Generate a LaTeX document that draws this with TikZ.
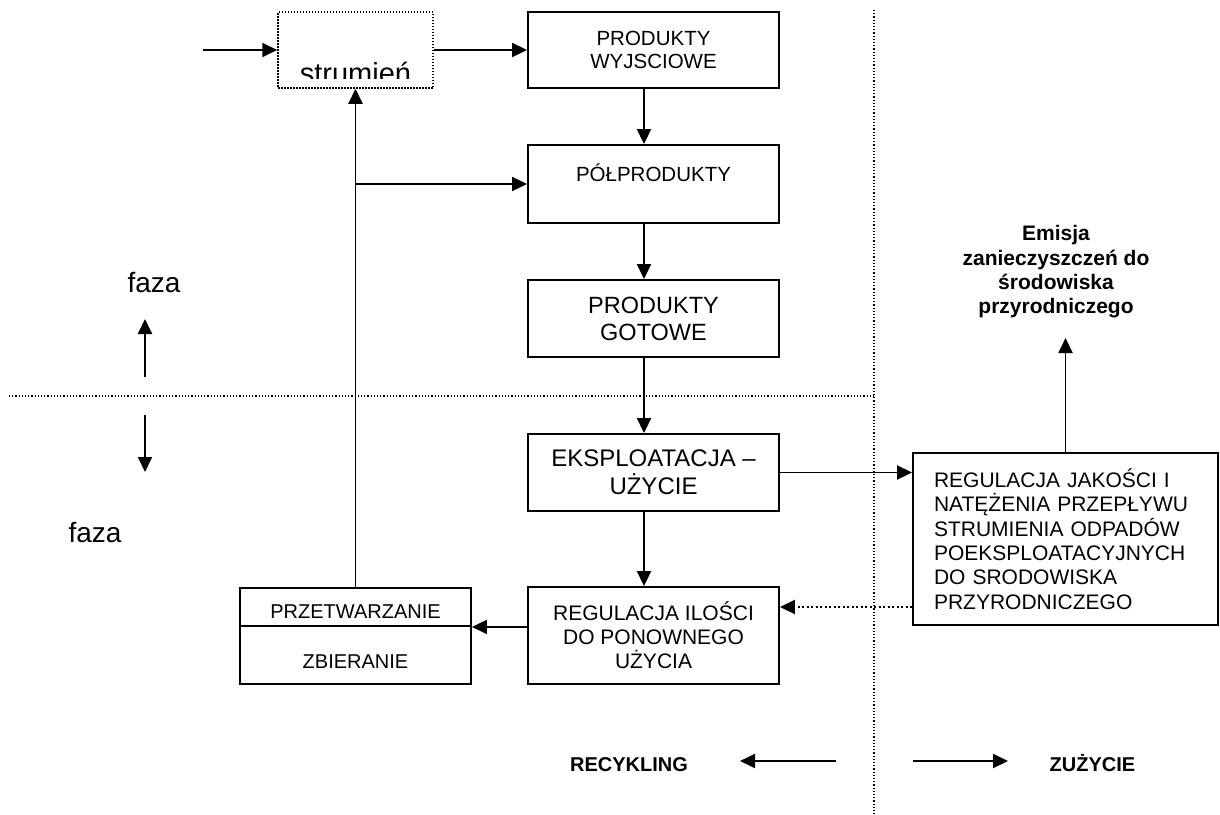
\documentclass[tikz,border=0pt]{standalone}
\usepackage{fontspec}
\setmainfont{Liberation Sans}
\usetikzlibrary{arrows.meta}

\begin{document}
\begin{tikzpicture}[x=1pt, y=-1pt,
    arr/.style={line width=1.9pt, -{Triangle[length=15pt,width=14pt]}},
    dotarr/.style={line width=2pt, dash pattern=on 2pt off 2.5pt, -{Triangle[length=15pt,width=14pt]}},
    blok/.style={draw, line width=1.9pt, minimum width=251pt, align=center, inner sep=0pt, font=\fontsize{20.5}{23.6}\selectfont},
    granica/.style={line width=1.2pt, dash pattern=on 1.2pt off 2pt},
    napis/.style={font=\bfseries\fontsize{20}{24}\selectfont, anchor=base}]
            \useasboundingbox ( 0, 0 ) rectangle ( 1220, 814 );
            % границы
            \draw [granica] ( 874, 10 ) -- ( 874, 814 );
            \draw [granica] ( 9, 396 ) -- ( 874, 396 );

            % блоки
            \node [draw, line width=1.5pt, dash pattern=on 1.5pt off 1.5pt, minimum width=155pt, minimum height=76pt, inner sep=0pt] (strum) at ( 355.5, 50 ) {};
            \begin{scope}
                \clip (strum.north west) rectangle ([yshift=10pt]strum.south east);
                \node [font=\fontsize{29}{33}\selectfont, anchor=base] (strumtxt) at ( 355.5, 83 ) {strumień};
            \end{scope}
            \node [blok, minimum height=76pt] (wyj) at ( 653.5, 50 ) {PRODUKTY\\WYJSCIOWE};
            \node [blok, minimum height=78pt] (pol) at ( 653.5, 184 ) {PÓŁPRODUKTY\\~};
            \node [blok, minimum height=77pt, font=\fontsize{23.5}{27}\selectfont] (got) at ( 653.5, 318.5 ) {PRODUKTY\\GOTOWE};
            \node [blok, minimum height=77pt, font=\fontsize{24}{28}\selectfont] (eks) at ( 653.5, 472.5 ) {EKSPLOATACJA –\\UŻYCIE};
            \node [blok, minimum height=97pt, font=\fontsize{21}{24}\selectfont] (reg) at ( 653.5, 635.5 ) {REGULACJA ILOŚCI\\DO PONOWNEGO\\UŻYCIA};
            \node [blok, minimum width=231pt, minimum height=38pt, text height=22pt, text depth=0pt, font=\fontsize{20}{23}\selectfont] (przetw) at ( 355.5, 607 ) {PRZETWARZANIE};
            \node [blok, minimum width=231pt, minimum height=58pt, text height=26pt, text depth=0pt, font=\fontsize{20}{23}\selectfont] (zbier) at ( 355.5, 655 ) {ZBIERANIE};
            \node [draw, line width=1.9pt, minimum width=305pt, minimum height=172pt, text width=263pt, inner xsep=21pt, inner ysep=0pt, align=left, font=\fontsize{21}{24.4}\selectfont] (odp) at ( 1065.5, 539 ) {REGULACJA JAKOŚCI I\\NATĘŻENIA PRZEPŁYWU\\STRUMIENIA ODPADÓW\\POEKSPLOATACYJNYCH\\DO SRODOWISKA\\PRZYRODNICZEGO};

            % подписи
            \node [font=\bfseries\fontsize{21}{24.3}\selectfont, align=center] (emis) at ( 1056, 272 ) {Emisja\\zanieczyszczeń do\\środowiska\\przyrodniczego};
            \node [font=\fontsize{28}{32}\selectfont, anchor=base] (faza1) at ( 154, 292 ) {faza};
            \node [font=\fontsize{28}{32}\selectfont, anchor=base] (faza2) at ( 95, 542 ) {faza};
            \node [napis] (rec) at ( 629, 771 ) {RECYKLING};
            \node [napis] (zuz) at ( 1092.5, 771 ) {ZUŻYCIE};

            % стрелки
            \coordinate (wej) at ( 203, 50 );
            \coordinate (emisdol) at ( 1065.5, 338 );
            \coordinate (kr) at ([yshift=28.5pt]reg.east);
            \draw [arr] (wej) -- (strum.west);
            \draw [arr] (strum.east) -- (wyj.west);
            \draw [arr] ([xshift=-9.5pt]wyj.south) -- ([xshift=-9.5pt]pol.north);
            \draw [arr] ([xshift=-9.5pt]pol.south) -- ([xshift=-9.5pt]got.north);
            \draw [arr] ([xshift=-9.5pt]got.south) -- ([xshift=-9.5pt]eks.north);
            \draw [arr] ([xshift=-9.5pt]eks.south) -- ([xshift=-9.5pt]reg.north);
            \draw [arr] (eks.east) -- (eks.east -| odp.west);
            \draw [dotarr] (kr -| odp.west) -- (kr);
            \draw [arr] (reg.west |- przetw.south) -- (przetw.south east);
            \draw [arr] (przetw.north) -- (strum.south);
            \draw [arr] (przetw.north |- pol.west) -- (pol.west);
            \draw [arr] (odp.north) -- (emisdol);

            % фазы
            \coordinate (g1) at ( 145, 377 );
            \coordinate (g2) at ( 145, 319 );
            \coordinate (d1) at ( 145, 415 );
            \coordinate (d2) at ( 145, 472 );
            \draw [arr] (g1) -- (g2);
            \draw [arr] (d1) -- (d2);
            \coordinate (r1) at ( 836, 761 );
            \coordinate (r2) at ( 740, 761 );
            \coordinate (z1) at ( 913, 761 );
            \coordinate (z2) at ( 1008, 761 );
            \draw [arr] (r1) -- (r2);
            \draw [arr] (z1) -- (z2);
        \end{tikzpicture}
\end{document}
